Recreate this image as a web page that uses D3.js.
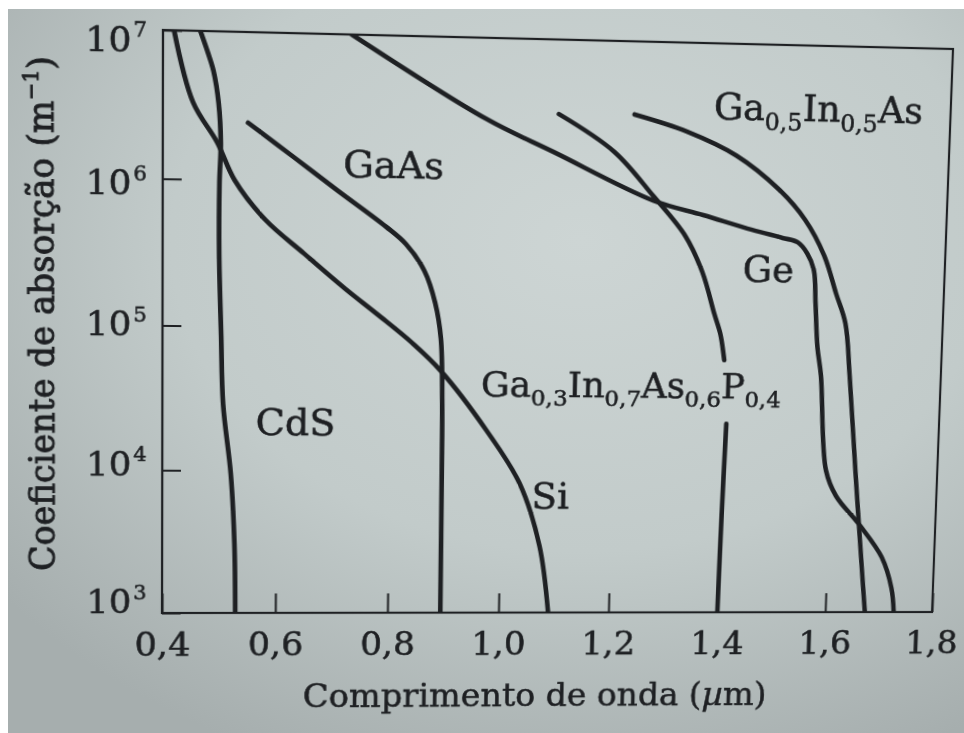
<!DOCTYPE html>
<html>
<head>
<meta charset="utf-8">
<script src="https://cdn.jsdelivr.net/npm/d3@7"></script>
<style>
  html, body { margin: 0; padding: 0; width: 964px; height: 733px; overflow: hidden; background: #fff; }
  svg { position: absolute; left: 0; top: 0; }
  #chart { transform-origin: 0 0; }
</style>
</head>
<body>
<svg id="paper" width="964" height="733"></svg>
<svg id="chart" width="964" height="733"></svg>
<script>
// Absorption coefficient (m^-1) of several semiconductors versus wavelength (µm)

const xTicks = [0.4, 0.6, 0.8, 1.0, 1.2, 1.4, 1.6, 1.8];
const yTicks = [1e3, 1e4, 1e5, 1e6, 1e7];

const cdsWavelength = [0.464, 0.477, 0.487, 0.496, 0.500, 0.498, 0.498, 0.502, 0.506, 0.520, 0.527, 0.529];
const cdsAlpha      = [1.0e7, 7.2e6, 5.4e6, 3.3e6, 1.78e6, 9.5e5, 3.1e5, 8.7e4, 2.9e4, 9.5e3, 3.1e3, 1.0e3];

const siWavelength = [0.419, 0.452, 0.494, 0.524, 0.578, 0.646, 0.718, 0.777, 0.838, 0.889, 0.973, 1.034, 1.072, 1.090];
const siAlpha      = [1.0e7, 3.3e6, 1.78e6, 1.0e6, 5.4e5, 3.2e5, 1.86e5, 1.23e5, 7.9e4, 5.1e4, 1.95e4, 8.3e3, 3.0e3, 1.0e3];

const gaasWavelength = [0.547, 0.627, 0.704, 0.789, 0.825, 0.858, 0.878, 0.889, 0.893, 0.894, 0.895];
const gaasAlpha      = [2.45e6, 1.45e6, 8.7e5, 5.0e5, 3.8e5, 2.5e5, 1.5e5, 8.5e4, 3.0e4, 1.0e4, 1.0e3];

const geWavelength = [0.726, 0.964, 1.084, 1.264, 1.355, 1.444, 1.500, 1.528, 1.546, 1.559, 1.564, 1.570, 1.578, 1.593, 1.613, 1.658, 1.702, 1.722, 1.728];
const geAlpha      = [1.0e7, 2.8e6, 1.7e6, 8.1e5, 6.5e5, 5.2e5, 4.6e5, 4.3e5, 3.6e5, 2.75e5, 1.6e5, 7.9e4, 5.0e4, 1.05e4, 6.9e3, 4.3e3, 2.5e3, 1.5e3, 1.0e3];

// the curve is interrupted where its label crosses it (null = gap)
const gainaspWavelength = [1.092, 1.192, 1.264, 1.324, 1.356, 1.380, 1.392, 1.400, null, 1.407, 1.403, 1.400];
const gainaspAlpha      = [3.1e6, 1.74e6, 8.7e5, 4.6e5, 2.6e5, 1.32e5, 9.5e4, 6.3e4, null, 2.24e4, 5.0e3, 1.0e3];

const gainasWavelength = [1.227, 1.322, 1.412, 1.491, 1.540, 1.577, 1.601, 1.620, 1.631, 1.648, 1.666, 1.674];
const gainasAlpha      = [3.16e6, 2.45e6, 1.70e6, 1.0e6, 6.2e5, 3.5e5, 1.9e5, 1.17e5, 5.0e4, 1.0e4, 2.0e3, 1.0e3];

// curve labels: text pieces and the point (wavelength, alpha) where each starts
const labelText = [
  [["GaAs"]],
  [["CdS"]],
  [["Si"]],
  [["Ge"]],
  [["Ga"], ["0,5", "sub"], ["In"], ["0,5", "sub"], ["As"]],
  [["Ga"], ["0,3", "sub"], ["In"], ["0,7", "sub"], ["As"], ["0,6", "sub"], ["P"], ["0,4", "sub"]]
];
const labelWavelength = [0.713, 0.563, 1.056, 1.429, 1.369, 0.962];
const labelAlpha      = [1.07e6, 1.78e4, 5.5e3, 2.24e5, 3.0e6, 3.4e4];
const labelWidth      = [null, null, null, null, 209, 299];

const xTitle = [["Comprimento de onda ("], ["µ", "it"], ["m)"]];
const yTitle = [["Coeficiente de absorção (m"], ["−1", "sup"], [")"]];

const ink = "#1e2023";
const serif = "'DejaVu Serif', 'Liberation Serif', serif";
const plot = { left: 162, top: 30, right: 932, bottom: 613 };

// ---------- paper ----------
const paper = d3.select("#paper");
const defs = paper.append("defs");
const grad = defs.append("radialGradient").attr("id", "sheet")
  .attr("cx", "60%").attr("cy", "32%").attr("r", "78%");
grad.append("stop").attr("offset", "0%").attr("stop-color", "#cdd5d4");
grad.append("stop").attr("offset", "55%").attr("stop-color", "#c2cbca");
grad.append("stop").attr("offset", "100%").attr("stop-color", "#a6aeae");
paper.append("rect").attr("width", 964).attr("height", 733).attr("fill", "#ffffff");
paper.append("rect").attr("x", 8).attr("y", 9).attr("width", 956).attr("height", 724).attr("fill", "url(#sheet)");

// ---------- chart ----------
const chart = d3.select("#chart");
const x = d3.scaleLinear().domain([0.4, 1.8]).range([plot.left, plot.right]);
const y = d3.scaleLog().domain([1e3, 1e7]).range([plot.bottom, plot.top]);

chart.append("defs").append("clipPath").attr("id", "plotClip")
  .append("rect").attr("x", plot.left).attr("y", plot.top)
  .attr("width", plot.right - plot.left).attr("height", plot.bottom - plot.top);

// rich text with sub/superscripts
function addRich(parent, parts, size, weight) {
  const t = parent.append("text").attr("font-size", size).attr("font-family", serif)
    .attr("fill", ink).attr("stroke", ink).attr("stroke-width", weight || 0.55);
  let shift = 0;
  for (const [s, kind] of parts) {
    const target = kind === "sub" ? 0.26 * size : kind === "sup" ? -0.42 * size : 0;
    const fs = kind === "sub" ? size * 0.65 : kind === "sup" ? size * 0.6 : size;
    t.append("tspan")
      .attr("dy", target - shift)
      .attr("font-size", fs)
      .attr("font-style", kind === "it" ? "italic" : null)
      .text(s);
    shift = target;
  }
  return t;
}
function fitRich(parent, parts, width, weight) {
  const probe = addRich(parent, parts, 30, weight);
  const w = probe.node().getBBox().width;
  probe.remove();
  return addRich(parent, parts, 30 * width / w, weight);
}

// axes
const gx = chart.append("g")
  .attr("transform", `translate(0,${plot.bottom})`)
  .call(d3.axisBottom(x).tickValues(xTicks).tickSizeInner(-20).tickSizeOuter(0).tickPadding(20)
    .tickFormat(d => d.toFixed(1).replace(".", ",")))
  .attr("font-family", serif).attr("font-size", 34).attr("color", ink);
gx.select(".domain").remove();
gx.selectAll(".tick line").attr("stroke-width", 2);
gx.selectAll(".tick text").attr("stroke", ink).attr("stroke-width", 0.55);

const labelCentre = d3.scaleLog().domain([1e3, 1e7]).range([600.5, 39]);
const gy = chart.append("g")
  .attr("transform", `translate(${plot.left},0)`)
  .call(d3.axisLeft(y).tickValues(yTicks).tickSizeInner(-18).tickSizeOuter(0).tickPadding(15)
    .tickFormat(() => ""))
  .attr("font-family", serif).attr("font-size", 34).attr("color", ink);
gy.select(".domain").remove();
gy.selectAll(".tick line").attr("stroke-width", 2);
gy.selectAll(".tick text").each(function (d) {
  const t = d3.select(this).attr("stroke", ink).attr("stroke-width", 0.55);
  t.attr("y", labelCentre(d) - y(d)).attr("dy", "0.36em");
  t.append("tspan").text("10");
  t.append("tspan").attr("font-size", 20).attr("dx", 2).attr("dy", -14.4).text(String(Math.round(Math.log10(d))));
});

// frame
chart.append("rect")
  .attr("x", plot.left).attr("y", plot.top)
  .attr("width", plot.right - plot.left).attr("height", plot.bottom - plot.top)
  .attr("fill", "none").attr("stroke", ink).attr("stroke-width", 2.2);

// curves
const series = [
  [cdsWavelength, cdsAlpha],
  [siWavelength, siAlpha],
  [gaasWavelength, gaasAlpha],
  [geWavelength, geAlpha],
  [gainaspWavelength, gainaspAlpha],
  [gainasWavelength, gainasAlpha]
].map(([w, a]) => w.map((v, i) => [v, a[i]]));

const line = d3.line()
  .defined(d => d[0] != null && d[1] != null)
  .x(d => x(d[0])).y(d => y(d[1]))
  .curve(d3.curveCatmullRom.alpha(0.5));

chart.append("g").attr("clip-path", "url(#plotClip)")
  .selectAll("path").data(series).join("path")
  .attr("d", line)
  .attr("fill", "none").attr("stroke", ink)
  .attr("stroke-width", 4.6).attr("stroke-linecap", "round").attr("stroke-linejoin", "round");

// curve labels
labelText.forEach((parts, i) => {
  const g = chart.append("g")
    .attr("transform", `translate(${x(labelWavelength[i])},${y(labelAlpha[i])})`);
  if (labelWidth[i]) fitRich(g, parts, labelWidth[i]);
  else addRich(g, parts, 37);
});

// axis titles
const gxt = chart.append("g").attr("transform", "translate(532,711)");
fitRich(gxt, xTitle, 465).attr("text-anchor", "middle");

const gyt = chart.append("g").attr("transform", "translate(59,314) rotate(-90)");
fitRich(gyt, yTitle, 512, 0.9).attr("text-anchor", "middle");

// ---------- page perspective: map the flat plot frame onto the sheet ----------
function homography(src, dst) {
  const A = [], b = [];
  for (let i = 0; i < 4; i++) {
    const [sx, sy] = src[i], [u, v] = dst[i];
    A.push([sx, sy, 1, 0, 0, 0, -u * sx, -u * sy]); b.push(u);
    A.push([0, 0, 0, sx, sy, 1, -v * sx, -v * sy]); b.push(v);
  }
  const n = 8;
  for (let c = 0; c < n; c++) {
    let p = c;
    for (let r = c + 1; r < n; r++) if (Math.abs(A[r][c]) > Math.abs(A[p][c])) p = r;
    [A[c], A[p]] = [A[p], A[c]]; [b[c], b[p]] = [b[p], b[c]];
    for (let r = 0; r < n; r++) {
      if (r === c) continue;
      const f = A[r][c] / A[c][c];
      for (let k = c; k < n; k++) A[r][k] -= f * A[c][k];
      b[r] -= f * b[c];
    }
  }
  return b.map((v, i) => v / A[i][i]);
}
const h = homography(
  [[plot.left, plot.top], [plot.right, plot.top], [plot.left, plot.bottom], [plot.right, plot.bottom]],
  [[163, 30], [953, 49], [162, 613], [932, 612]]
);
d3.select("#chart").style("transform",
  `matrix3d(${h[0]},${h[3]},0,${h[6]},${h[1]},${h[4]},0,${h[7]},0,0,1,0,${h[2]},${h[5]},0,1)`);
</script>
</body>
</html>
